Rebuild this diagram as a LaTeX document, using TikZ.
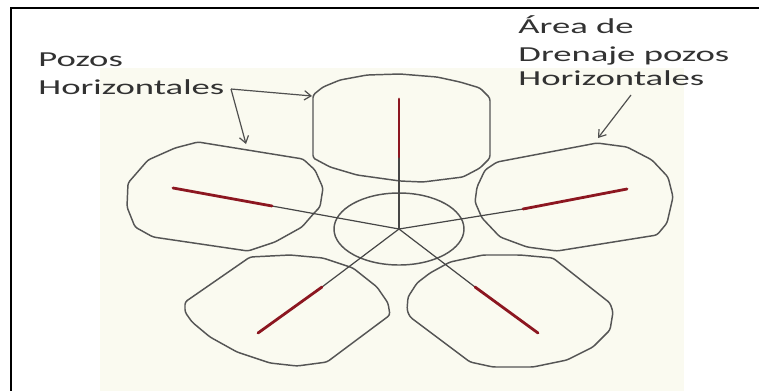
\documentclass[tikz,border=0pt]{standalone}
\usepackage{xcolor}
\usepackage{amsmath}
\usepackage{fontspec}
\setmainfont{Carlito}
\usepackage{tikz}
\usetikzlibrary{arrows.meta}

\begin{document}
\begin{tikzpicture}[x=0.75pt,y=0.75pt,yscale=-1,xscale=1,
  lobe/.style={color={rgb, 255:red, 85; green, 85; blue, 85}, line width=1.1, line join=round, rounded corners=2},
  wellred/.style={color={rgb, 255:red, 140; green, 22; blue, 32}, line width=2.1, line cap=round},
  wellpipe/.style={color={rgb, 255:red, 70; green, 70; blue, 70}, line width=0.9},
  pointer/.style={color={rgb, 255:red, 80; green, 80; blue, 80}, line width=0.9, -{Straight Barb[length=5pt,width=7pt]}},
  label/.style={anchor=base west, inner sep=0pt, xscale=1.72, color={rgb, 255:red, 50; green, 50; blue, 50}, font=\fontsize{16}{19}\selectfont}]
\useasboundingbox (0,0) rectangle (759,390);

%Shape: Rectangle (background)
\fill [color={rgb, 255:red, 250; green, 250; blue, 240}] (100,68) rectangle (684,392);
%Shape: Frame
\draw [line width=2.2] (11,394) -- (11,8) -- (762,8);

%Shape: Lobe top
\draw [lobe] (313,95) -- (323,87) -- (340,80) -- (367,75) -- (400,74) -- (437,77) -- (460,82) -- (480,88) -- (490,98) -- (490,158) -- (480,168) -- (463,177) -- (423,182) -- (400,181) -- (357,175) -- (330,167) -- (317,160) -- (313,158) -- cycle ;
%Shape: Lobe left
\draw [lobe] (198,142) -- (303,159) -- (315,170) -- (323,188) -- (320,207) -- (315,212) -- (302,227) -- (275,242) -- (248,251) -- (153,237) -- (135,227) -- (127,207) -- (128,183) -- (148,160) -- (175,148) -- cycle ;
%Shape: Lobe right
\draw [lobe] (597,143) -- (497,162) -- (485,170) -- (477,187) -- (475,202) -- (482,218) -- (500,237) -- (527,247) -- (557,251) -- (657,235) -- (667,223) -- (673,197) -- (668,177) -- (652,160) -- (627,147) -- cycle ;
%Shape: Lobe lower left
\draw [lobe] (250,257) -- (290,255) -- (323,258) -- (353,268) -- (377,287) -- (388,303) -- (390,315) -- (327,362) -- (297,366) -- (270,363) -- (237,352) -- (210,337) -- (192,322) -- (185,312) -- (185,302) -- cycle ;
%Shape: Lobe lower right
\draw [lobe] (407,310) -- (408,297) -- (417,283) -- (430,273) -- (450,262) -- (483,255) -- (520,255) -- (553,258) -- (610,303) -- (613,312) -- (610,330) -- (593,347) -- (567,360) -- (533,367) -- (493,367) -- (470,362) -- (410,317) -- cycle ;

% Wells
\coordinate (hub) at (399,229);
\coordinate (top-in) at (399,157);   \coordinate (top-tip) at (399,99);
\coordinate (left-in) at (272,206);  \coordinate (left-tip) at (173,188);
\coordinate (right-in) at (523,209); \coordinate (right-tip) at (627,189);
\coordinate (ll-in) at (322,287);    \coordinate (ll-tip) at (258,333);
\coordinate (lr-in) at (475,287);    \coordinate (lr-tip) at (538,333);

%Shape: Circle (platform)
\draw [lobe] (hub) ellipse [x radius=65, y radius=36];

\foreach \w in {top,left,right,ll,lr}{
  \draw [wellpipe] (hub) -- (\w-in);
  \draw [wellred] (\w-in) -- (\w-tip);
}

% Text Node
\node (pozos) [label] at (38,66) {Pozos};
% Text Node
\node (horizL) [label] at (38,94) {Horizontales};
% Text Node
\node (area) [label] at (518,33) {Área de};
% Text Node
\node (drenaje) [label] at (518,61) {Drenaje pozos};
% Text Node
\node (horizR) [label] at (518,85) {Horizontales};

% Pointers
\coordinate (tailL) at (231,89);
\coordinate (headTop) at (312,96);
\coordinate (headLeft) at (246,144);
\coordinate (tailR) at (631,95);
\coordinate (headRight) at (598,138);
\draw [pointer] (tailL) -- (headTop);
\draw [pointer] (tailL) -- (headLeft);
\draw [pointer] (tailR) -- (headRight);

\end{tikzpicture}
\end{document}
